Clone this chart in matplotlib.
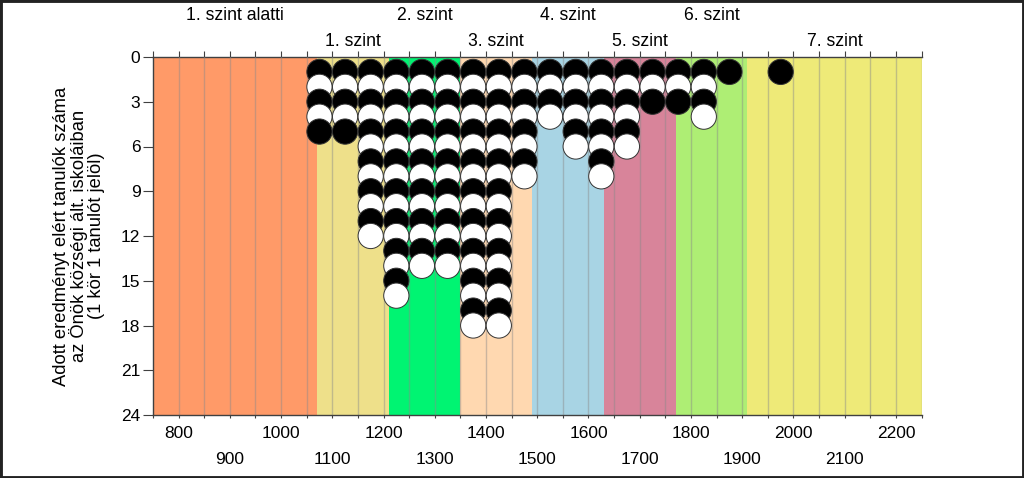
import matplotlib
matplotlib.use("Agg")
import matplotlib.pyplot as plt
from matplotlib.patches import Rectangle
import matplotlib.transforms as mtransforms

plt.rcParams['font.family'] = ['Liberation Sans', 'DejaVu Sans']

# ---- data ----
bin_centers = [1075, 1125, 1175, 1225, 1275, 1325, 1375, 1425, 1475, 1525,
               1575, 1625, 1675, 1725, 1775, 1825, 1875, 1975]
counts = [5, 5, 12, 16, 14, 14, 18, 18, 8, 4, 6, 8, 6, 3, 3, 4, 1, 1]

band_edges = [750, 1070, 1210, 1350, 1490, 1630, 1770, 1910, 2250]
band_labels = ["1. szint alatti", "1. szint", "2. szint", "3. szint",
               "4. szint", "5. szint", "6. szint", "7. szint"]
band_colors = ["#FF9A68", "#EEE08A", "#00F472", "#FFD8B0",
               "#A8D4E4", "#D8849A", "#AEEE74", "#EEEA78"]

x_labels_row1 = [800, 1000, 1200, 1400, 1600, 1800, 2000, 2200]
x_labels_row2 = [900, 1100, 1300, 1500, 1700, 1900, 2100]
y_ticks = [0, 3, 6, 9, 12, 15, 18, 21, 24]
ylabel_lines = ["Adott eredményt elért tanulók száma",
                "az Önök községi ált. iskoláiban",
                "(1 kör 1 tanulót jelöl)"]

W, H = 1024, 478
fig = plt.figure(figsize=(W / 100, H / 100), dpi=100)
ax_l, ax_r, ax_t, ax_b = 152.9, 921.6, 57, 415
ax = fig.add_axes([ax_l / W, 1 - ax_b / H, (ax_r - ax_l) / W, (ax_b - ax_t) / H])

ax.set_xlim(750, 2250)
ax.set_ylim(24, 0)

# bands
for i in range(len(band_colors)):
    ax.axvspan(band_edges[i], band_edges[i + 1], color=band_colors[i], lw=0, zorder=0)

# grid lines
for gx in range(800, 2251, 50):
    ax.axvline(gx, color="#8a8a8a", alpha=0.45, lw=1.0, zorder=1)

# circles
xs, ys, fcs = [], [], []
for c, n in zip(bin_centers, counts):
    for k in range(1, n + 1):
        xs.append(c)
        ys.append(k)
        fcs.append("black" if k % 2 == 1 else "white")
ax.scatter(xs, ys, s=330, c=fcs, edgecolors="#333333", linewidths=0.7, zorder=3,
           clip_on=False)

# spines
for s in ["right", "top"]:
    ax.spines[s].set_visible(False)
for s in ["left", "bottom"]:
    ax.spines[s].set_color("#404040")
    ax.spines[s].set_linewidth(1.0)

# y ticks
ax.set_yticks(y_ticks)
ax.tick_params(axis="y", direction="out", length=7, width=0.8, color="#404040",
               labelsize=12.5, pad=2)

# bottom x ticks
ax.set_xticks(list(range(750, 2251, 50)))
ax.set_xticklabels([])
ax.tick_params(axis="x", direction="out", length=2, width=0.8, color="#404040")

# top ticks
sec = ax.secondary_xaxis("top")
sec.set_xticks(list(range(750, 2251, 50)))
sec.set_xticklabels([])
sec.tick_params(axis="x", direction="out", length=4.5, width=0.8, color="#404040")
sec.spines["top"].set_color("#404040")
sec.spines["top"].set_linewidth(1.0)

trans = mtransforms.blended_transform_factory(ax.transData, fig.transFigure)

# x labels in two rows
for v in x_labels_row1:
    ax.text(v, 1 - 433 / H, str(v), transform=trans, ha="center", va="center",
            fontsize=12.5)
for v in x_labels_row2:
    ax.text(v, 1 - 460 / H, str(v), transform=trans, ha="center", va="center",
            fontsize=12.5)

# band labels
for i, lab in enumerate(band_labels):
    cx = (band_edges[i] + band_edges[i + 1]) / 2
    yy = 1 - (16 if i % 2 == 0 else 41) / H
    ax.text(cx, yy, lab, transform=trans, ha="center", va="center", fontsize=12.7)

# y label
fig.text(79 / W, 1 - 236 / H, "\n".join(ylabel_lines), rotation=90, ha="center",
         va="center", fontsize=13.2, linespacing=0.95, multialignment="center")

# figure border
fig.patches.append(Rectangle((0, 0), 1, 1, transform=fig.transFigure, fill=False,
                             lw=3.5, ec="#222222"))

fig.savefig("out.png", dpi=100)
